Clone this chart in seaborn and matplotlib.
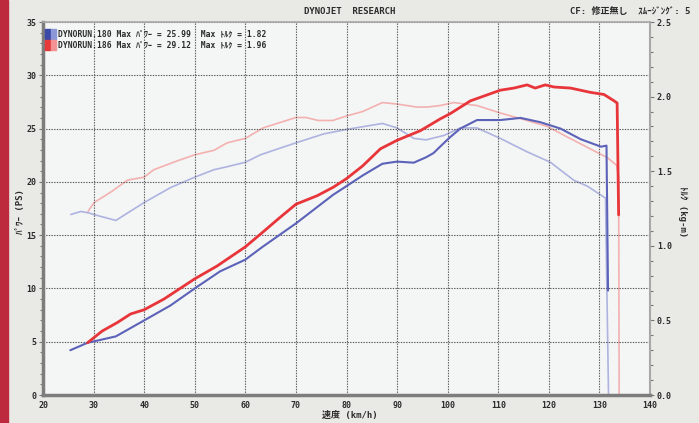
import pandas as pd
import matplotlib
matplotlib.use("Agg")
import matplotlib.pyplot as plt
from matplotlib.patches import Rectangle
from matplotlib.ticker import MultipleLocator, FormatStrFormatter
import seaborn as sns

# run 186 (red) - power in PS
red_speed = [28.8, 31.7, 34.7, 37.3, 40.0, 43.9, 50.0, 54.4, 60.0, 63.5, 66.7, 70.0,
             74.2, 77.4, 80.0, 83.2, 86.7, 90.0, 94.6, 98.5, 100.5, 104.5, 110.4,
             113.1, 115.7, 117.3, 119.3, 121.0, 124.3, 128.2, 130.9, 132.9, 133.5, 133.8]
red_power = [4.9, 6.0, 6.8, 7.6, 8.0, 9.0, 10.9, 12.1, 13.9, 15.3, 16.6, 17.9,
             18.7, 19.5, 20.3, 21.5, 23.1, 23.9, 24.8, 25.9, 26.4, 27.6, 28.6,
             28.8, 29.1, 28.8, 29.1, 28.9, 28.8, 28.4, 28.2, 27.6, 27.4, 16.9]

# run 186 (red) - torque in kg-m
red_tq_speed = [28.9, 30.1, 33.4, 36.7, 40.0, 41.9, 46.6, 50.0, 53.8, 56.4, 60.0, 63.5,
                70.0, 72.0, 74.4, 77.3, 80.0, 83.2, 87.1, 90.0, 93.9, 96.0, 98.5,
                101.2, 105.8, 110.4, 115.7, 119.7, 123.6, 127.6, 131.6, 133.4, 133.8, 133.9]
red_torque = [1.23, 1.29, 1.36, 1.44, 1.46, 1.51, 1.57, 1.61, 1.64, 1.69, 1.72, 1.79,
              1.86, 1.86, 1.84, 1.84, 1.87, 1.90, 1.96, 1.95, 1.93, 1.93, 1.94,
              1.96, 1.94, 1.89, 1.84, 1.80, 1.73, 1.66, 1.59, 1.54, 1.46, 0.0]

# run 180 (blue) - power in PS
blue_speed = [25.4, 28.8, 30.7, 34.4, 40.0, 45.2, 50.0, 55.0, 60.0, 63.4, 66.7, 70.0,
              77.4, 80.0, 83.2, 87.1, 90.0, 93.3, 95.7, 97.2, 98.5, 100.5, 102.5,
              105.8, 110.4, 114.4, 118.3, 122.3, 126.3, 130.3, 131.4, 131.7]
blue_power = [4.2, 4.9, 5.1, 5.5, 7.0, 8.4, 10.0, 11.6, 12.7, 13.9, 15.0, 16.1,
              18.8, 19.6, 20.6, 21.7, 21.9, 21.8, 22.3, 22.7, 23.3, 24.2, 25.0,
              25.8, 25.8, 26.0, 25.6, 25.0, 24.0, 23.3, 23.4, 9.8]

# run 180 (blue) - torque in kg-m
blue_tq_speed = [25.5, 27.5, 29.1, 30.0, 34.4, 40.0, 45.2, 50.0, 53.8, 56.4, 60.0, 63.0,
                 65.6, 70.0, 75.5, 80.0, 87.1, 90.0, 93.3, 95.7, 99.3, 102.5, 105.8,
                 110.4, 115.7, 120.3, 124.9, 127.6, 130.3, 131.2, 131.8]
blue_torque = [1.21, 1.23, 1.22, 1.21, 1.17, 1.29, 1.39, 1.46, 1.51, 1.53, 1.56, 1.61,
               1.64, 1.69, 1.75, 1.78, 1.82, 1.79, 1.72, 1.71, 1.74, 1.79, 1.79,
               1.72, 1.63, 1.56, 1.44, 1.40, 1.34, 1.32, 0.0]

legend_lines = ["DYNORUN.180 Max ﾊﾟﾜｰ = 25.99  Max ﾄﾙｸ = 1.82",
                "DYNORUN.186 Max ﾊﾟﾜｰ = 29.12  Max ﾄﾙｸ = 1.96"]

red_df = pd.DataFrame({"speed": red_speed, "power": red_power})
red_tq_df = pd.DataFrame({"speed": red_tq_speed, "torque": red_torque})
blue_df = pd.DataFrame({"speed": blue_speed, "power": blue_power})
blue_tq_df = pd.DataFrame({"speed": blue_tq_speed, "torque": blue_torque})

sns.set_theme(style="white")
plt.rcParams["font.family"] = ["DejaVu Sans Mono", "Noto Sans CJK JP"]
plt.rcParams["font.weight"] = "bold"
txt = "#2b2b2b"

fig = plt.figure(figsize=(6.99, 4.23), dpi=100, facecolor="#e9eae5")

# red strip at the left edge
fig.patches.append(Rectangle((0, 0), 8 / 699, 1, transform=fig.transFigure,
                             color="#bd2a3d", zorder=0))

ax = fig.add_axes([43 / 699, 28 / 423, 607 / 699, 373 / 423])
ax2 = ax.twinx()
ax2.patch.set_visible(True)
ax2.set_facecolor("#f4f5f5")
ax.set_zorder(ax2.get_zorder() + 1)
ax.patch.set_visible(False)

# torque (thin, pale)
sns.lineplot(data=blue_tq_df, x="speed", y="torque", ax=ax2, color="#aeb3e0",
             linewidth=1.2, sort=False, estimator=None)
sns.lineplot(data=red_tq_df, x="speed", y="torque", ax=ax2, color="#f3b1b0",
             linewidth=1.2, sort=False, estimator=None)

# power (thick)
sns.lineplot(data=blue_df, x="speed", y="power", ax=ax, color="#5b62b8",
             linewidth=1.5, sort=False, estimator=None)
sns.lineplot(data=red_df, x="speed", y="power", ax=ax, color="#e8353a",
             linewidth=2.0, sort=False, estimator=None)

ax.set_xlim(20, 140)
ax.set_ylim(0, 35)
ax2.set_ylim(0, 2.5)

ax.xaxis.set_major_locator(MultipleLocator(10))
ax.xaxis.set_minor_locator(MultipleLocator(2))
ax.yaxis.set_major_locator(MultipleLocator(5))
ax.yaxis.set_minor_locator(MultipleLocator(1))
ax2.yaxis.set_major_locator(MultipleLocator(0.5))
ax2.yaxis.set_minor_locator(MultipleLocator(0.1))
ax2.yaxis.set_major_formatter(FormatStrFormatter("%.1f"))

ax.grid(True, which="major", linestyle=(0, (1.2, 1.2)), color="#555555", linewidth=0.8)

ax.tick_params(axis="both", which="both", colors="#777777", labelcolor=txt,
               labelsize=6, length=3, width=0.8, direction="out", pad=2)
ax.tick_params(axis="both", which="minor", length=2)
ax.tick_params(axis="x", which="both", direction="out", length=2)
ax2.tick_params(axis="y", which="both", colors="#777777", labelcolor=txt,
                labelsize=6, length=3, width=0.8, direction="out", pad=2)
ax2.tick_params(axis="y", which="minor", length=2)

for lab in ax.get_xticklabels() + ax.get_yticklabels() + ax2.get_yticklabels():
    lab.set_fontweight("bold")

ax.set_xlabel("")
ax.set_ylabel("")
ax2.set_ylabel("")

for s in ax2.spines.values():
    s.set_visible(False)
ax.spines["top"].set_color("#a8a8a8")
ax.spines["right"].set_color("#a8a8a8")
ax.spines["top"].set_linewidth(1.2)
ax.spines["right"].set_linewidth(1.5)
ax.spines["left"].set_color("#7d7d7d")
ax.spines["bottom"].set_color("#7d7d7d")
ax.spines["left"].set_linewidth(2.5)
ax.spines["bottom"].set_linewidth(2.5)

# legend swatches and text
sw = [("#3b4aa8", "#8c97d8"), ("#e63a3a", "#f39292")]
for i, (dark, light) in enumerate(sw):
    y0 = 0.954 - i * 0.029
    ax.add_patch(Rectangle((0.004, y0), 0.009, 0.027, transform=ax.transAxes,
                           color=dark, zorder=5, clip_on=False))
    ax.add_patch(Rectangle((0.013, y0), 0.008, 0.027, transform=ax.transAxes,
                           color=light, zorder=5, clip_on=False))
    ax.text(0.025, y0 + 0.0135, legend_lines[i], transform=ax.transAxes,
            fontsize=5.8, color=txt, va="center", ha="left", fontweight="bold")

# header and axis titles
fig.text(0.5, 0.973, "DYNOJET  RESEARCH", ha="center", va="center",
         fontsize=6.5, color=txt, fontweight="bold")
fig.text(0.987, 0.973, "CF: 修正無し  ｽﾑｰｼﾞﾝｸﾞ: 5", ha="right", va="center",
         fontsize=6.5, color=txt, fontweight="bold")
fig.text(0.5, 0.018, "速度 (km/h)", ha="center", va="center",
         fontsize=6.5, color=txt, fontweight="bold")
fig.text(0.03, 0.5, "ﾊﾟﾜｰ (PS)", ha="center", va="center", rotation=90,
         fontsize=6.5, color=txt, fontweight="bold")
fig.text(0.977, 0.5, "ﾄﾙｸ (kg-m)", ha="center", va="center", rotation=-90,
         fontsize=6.5, color=txt, fontweight="bold")

fig.savefig("out.png", dpi=100, facecolor=fig.get_facecolor())
